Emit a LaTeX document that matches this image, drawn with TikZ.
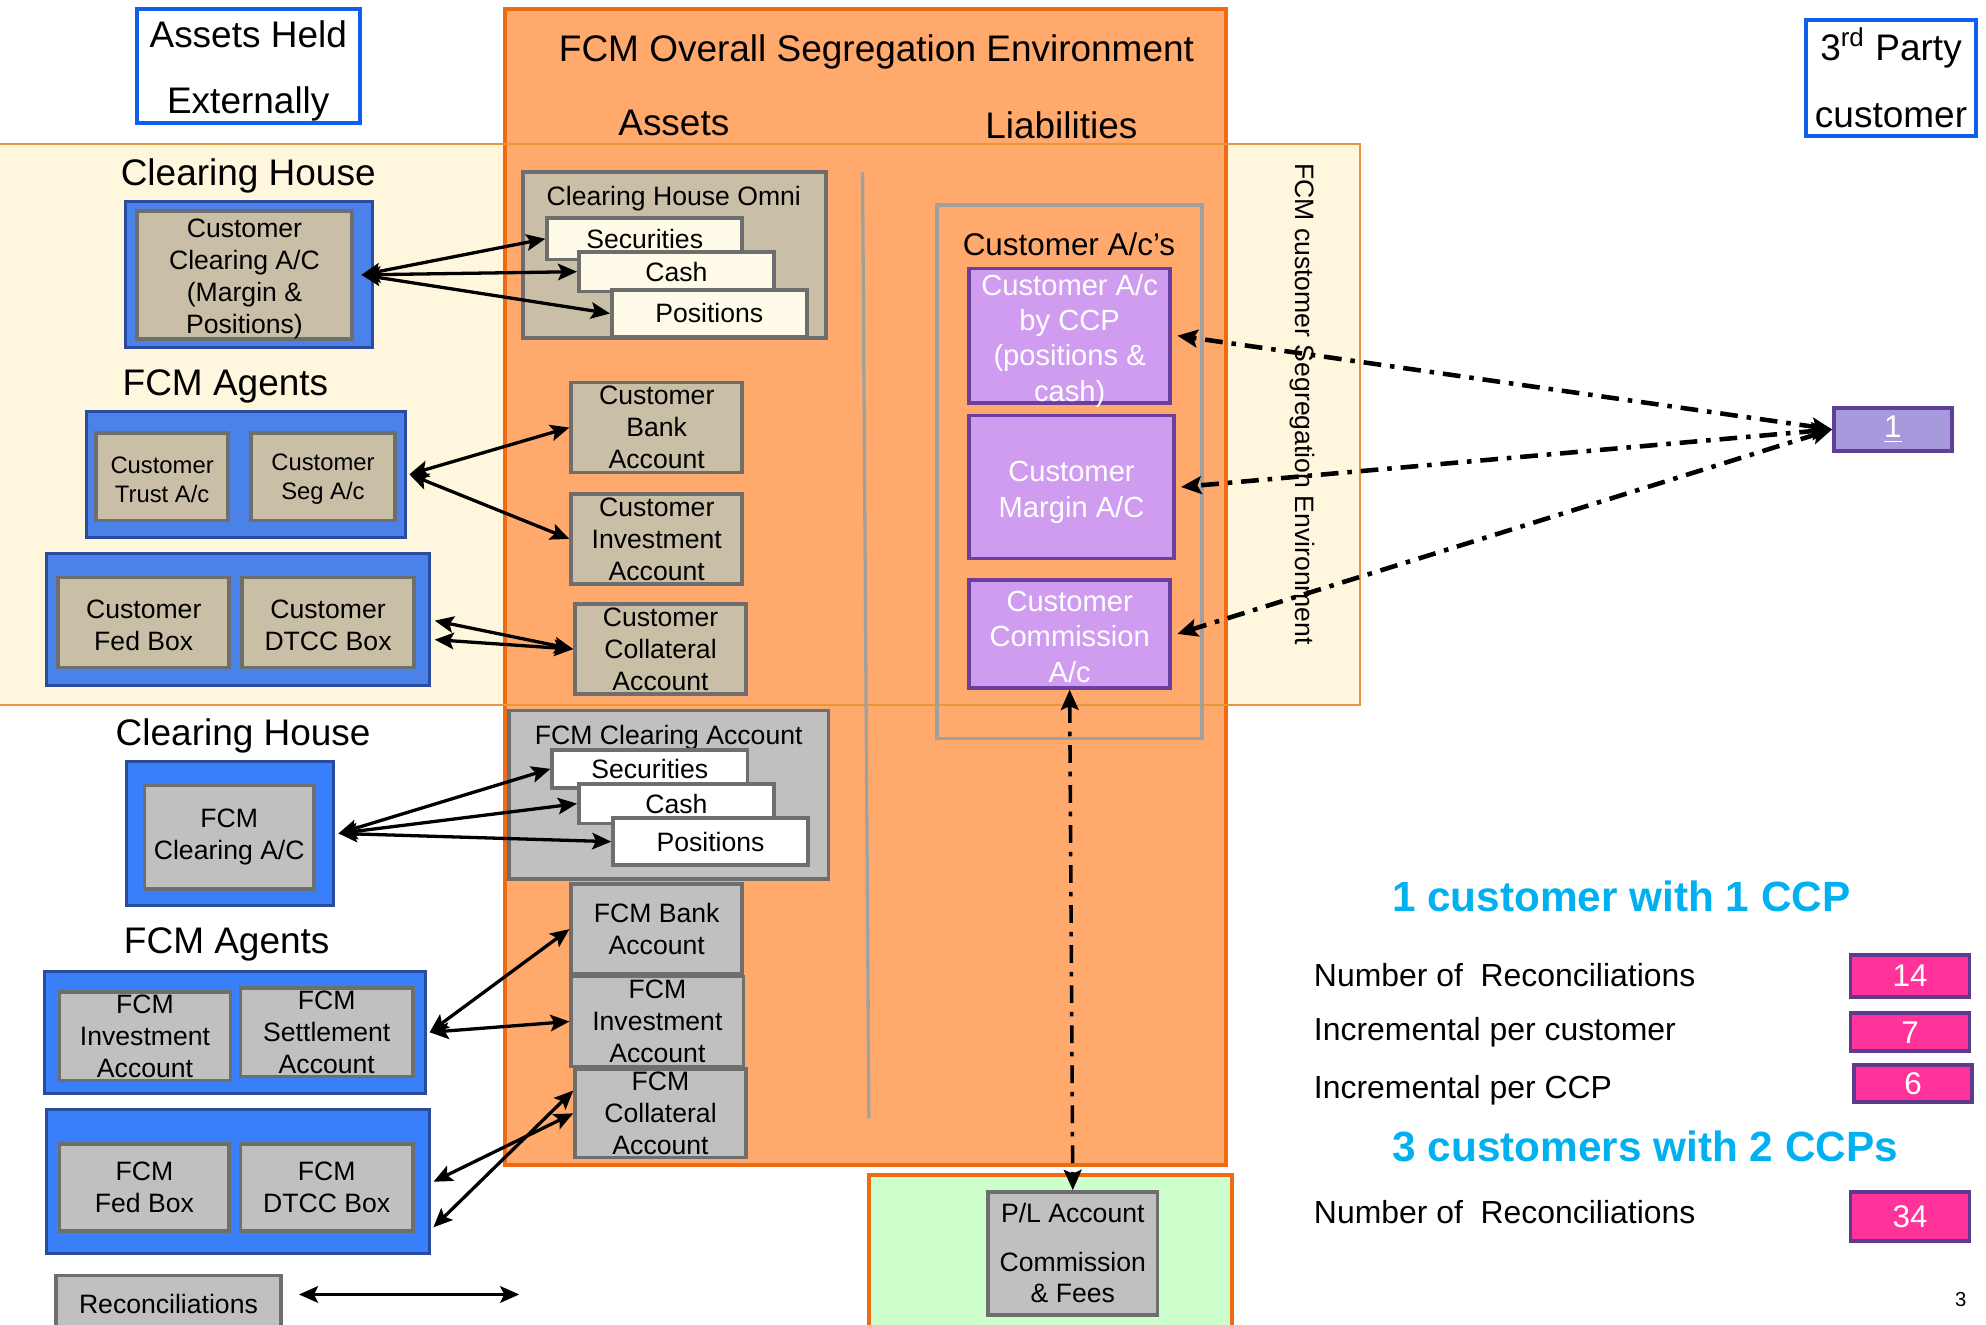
\documentclass[tikz,border=0pt]{standalone}
\usepackage{fontspec}
\setmainfont{Liberation Sans}
\usetikzlibrary{arrows.meta,calc}

% palette
\definecolor{orangefill}{HTML}{FFA96D}
\definecolor{orangeline}{HTML}{EE6B12}
\definecolor{bandfill}{HTML}{FFF6DE}
\definecolor{bandline}{HTML}{E8963A}
\definecolor{greenfill}{HTML}{CCFFCC}
\definecolor{bluefill}{HTML}{3A7FFA}
\definecolor{blueband}{HTML}{4A82EA}
\definecolor{bluedark}{HTML}{2B4C9E}
\definecolor{brightblue}{HTML}{1060EE}
\definecolor{tan}{HTML}{C9BFA7}
\definecolor{greyfill}{HTML}{C0C0C0}
\definecolor{boxline}{HTML}{6E6E6E}
\definecolor{creamw}{HTML}{FFFBE8}
\definecolor{purplefill}{HTML}{D09CF0}
\definecolor{purpleline}{HTML}{6B3FA0}
\definecolor{lavfill}{HTML}{A898DC}
\definecolor{lavline}{HTML}{5E3E96}
\definecolor{pinkfill}{HTML}{FF3399}
\definecolor{pinkline}{HTML}{5E3A8C}
\definecolor{cyantext}{HTML}{00B0F0}
\definecolor{framegrey}{HTML}{A0A0A0}

% font sizes
\newcommand\fsTitle{\fontsize{14.6pt}{17.5pt}\selectfont}
\newcommand\fsBox{\fontsize{10.5pt}{12.6pt}\selectfont}
\newcommand\fsSmallBox{\fontsize{9.4pt}{11.5pt}\selectfont}
\newcommand\fsPurple{\fontsize{11.5pt}{14pt}\selectfont}
\newcommand\fsAcs{\fontsize{12.4pt}{14pt}\selectfont}
\newcommand\fsStat{\fontsize{12.6pt}{15pt}\selectfont}
\newcommand\fsHead{\fontsize{16.7pt}{20pt}\selectfont\bfseries}
\newcommand\fsNum{\fontsize{12.4pt}{14pt}\selectfont}
\newcommand\fsPage{\fontsize{8pt}{9pt}\selectfont}
% invisible strut on a first line, to set a block of lines a little lower
\newcommand\pushdown[1]{\rule{0pt}{#1}}

\begin{document}
\begin{tikzpicture}[x=0.5pt,y=-0.5pt,
  % a rectangle given by its left, top, right and bottom edges
  area/.style n args={4}{minimum width={(#3-#1)*0.5pt}, minimum height={(#4-#2)*0.5pt},
    at={({(#1+#3)/2},{(#2+#4)/2})}},
  plain/.style={inner sep=0pt, align=center},
  title/.style={plain, font=\fsTitle},
  acct/.style={plain, draw=boxline, line width=1.4pt, font=\fsBox},
  tanbox/.style={acct, fill=tan},
  greybox/.style={acct, fill=greyfill},
  creambox/.style={acct, fill=creamw},
  whitebox/.style={acct, fill=white},
  bluebox/.style={plain, fill=bluefill, draw=bluedark, line width=1.2pt},
  bluebandbox/.style={bluebox, fill=blueband},
  purplebox/.style={plain, fill=purplefill, draw=purpleline, line width=1.5pt, text=white, font=\fsPurple},
  pinkbox/.style={plain, fill=pinkfill, draw=pinkline, line width=1.5pt, text=white, font=\fsNum},
  outlinebox/.style={plain, fill=white, draw=brightblue, line width=1.6pt, font=\fsTitle},
  stat/.style={inner sep=0pt, anchor=west, font=\fsStat},
  head/.style={inner sep=0pt, text=cyantext, font=\fsHead},
  link/.style={{Stealth[length=7.5pt,width=6.5pt,inset=1.5pt]}-{Stealth[length=7.5pt,width=6.5pt,inset=1.5pt]}, line width=1.3pt},
  dashdot/.style={{Stealth[length=8pt,width=7pt,inset=1.5pt]}-{Stealth[length=8pt,width=7pt,inset=1.5pt]},
    line width=1.8pt, dash pattern=on 7pt off 3.5pt on 1.8pt off 3.5pt}
]
\useasboundingbox (0,0) rectangle (1568,1046);

% customer segregation band, overall environment and P/L area
\node[plain, fill=bandfill, area={0}{114}{1073}{556}] (band) {};
\node[plain, fill=orangefill, draw=orangeline, line width=1.6pt, area={399}{7}{968}{920}] (env) {};
\draw[bandline, line width=0.8pt] (band.north west) -- (band.north east) -- (band.south east) -- (band.south west);
\node[plain, fill=greenfill, draw=orangeline, line width=1.6pt, area={686}{928}{973}{1075}] (plarea) {};

% headings
\node[outlinebox, area={108}{7}{284}{97}] (held) {\pushdown{14.6pt}Assets Held\\[8.5pt]Externally};
\node[outlinebox, area={1426}{16}{1560}{107}] (third) {3\textsuperscript{rd} Party\\[9pt]customer};
\node[title] (envtitle) at (692,41) {FCM Overall Segregation Environment};
\node[title] (assets) at (532,97) {Assets};
\node[title] (liab) at (838,99) {Liabilities};
\node[title] (ch1) at (196,139) {Clearing House};
\node[title] (ag1) at (178,305) {FCM Agents};
\node[title] (ch2) at (192,581) {Clearing House};
\node[title] (ag2) at (179,746) {FCM Agents};
\node[plain, rotate=-90, font=\fsBox] (bandlabel) at (1028,319) {FCM customer Segregation Environment};

% external holdings, customer side
\node[bluebandbox, area={99}{159}{294}{274}] (blueA) {};
\node[tanbox, area={108}{167}{278}{267}] (chca) {\pushdown{10.6pt}Customer\\Clearing A/C\\(Margin \&\\Positions)};
\node[bluebandbox, area={68}{325}{320}{424}] (blueB) {};
\node[tanbox, font=\fsSmallBox, area={76}{342}{180}{411}] (trust) {\pushdown{8.6pt}Customer\\Trust A/c};
\node[tanbox, font=\fsSmallBox, area={198}{342}{312}{411}] (seg) {\pushdown{8.6pt}Customer\\Seg A/c};
\node[bluebandbox, area={37}{437}{339}{541}] (blueC) {};
\node[tanbox, area={46}{456}{181}{527}] (fed) {\pushdown{9.6pt}Customer\\Fed Box};
\node[tanbox, area={191}{456}{327}{527}] (dtcc) {\pushdown{9.6pt}Customer\\DTCC Box};

% external holdings, FCM side
\node[bluebox, area={100}{601}{263}{715}] (blueD) {};
\node[greybox, area={114}{620}{248}{702}] (fcmca) {FCM\\Clearing A/C};
\node[bluebox, area={35}{767}{336}{863}] (blueE) {};
\node[greybox, area={47}{783}{182}{853}] (finv) {FCM\\Investment\\Account};
\node[greybox, area={190}{780}{326}{850}] (fset) {FCM\\Settlement\\Account};
\node[bluebox, area={37}{876}{339}{990}] (blueF) {};
\node[greybox, area={47}{903}{181}{972}] (ffed) {FCM\\Fed Box};
\node[greybox, area={190}{903}{326}{972}] (fdtcc) {FCM\\DTCC Box};
\node[greybox, area={44}{1007}{222}{1052}] (recon) {Reconciliations};
\coordinate (reca) at (236,1022);
\coordinate (recb) at (410,1022);

% assets inside the environment
\node[tanbox, area={413}{136}{652}{267}] (omni) {};
\node[plain, font=\fsBox] (omnititle) at (532,157) {Clearing House Omni};
\node[creambox, area={432}{172}{586}{205}] (sec) {Securities};
\node[creambox, area={457}{199}{611}{230}] (cash) {Cash};
\node[creambox, area={483}{229}{637}{266}] (pos) {Positions};
\node[tanbox, area={451}{302}{586}{373}] (cba) {Customer\\Bank\\Account};
\node[tanbox, area={451}{390}{586}{461}] (cia) {Customer\\Investment\\Account};
\node[tanbox, area={454}{477}{589}{548}] (ccoll) {Customer\\Collateral\\Account};

\node[greybox, area={402}{561}{654}{694}] (fclr) {};
\node[plain, font=\fsBox] (fclrtitle) at (528,582) {FCM Clearing Account};
\node[whitebox, area={436}{592}{590}{622}] (sec2) {Securities};
\node[whitebox, area={457}{619}{611}{650}] (cash2) {Cash};
\node[whitebox, area={484}{646}{638}{683}] (pos2) {Positions};
\node[greybox, area={451}{698}{586}{769}] (fba) {FCM Bank\\Account};
\node[greybox, area={451}{771}{587}{842}] (fia) {FCM\\Investment\\Account};
\node[greybox, area={454}{844}{589}{914}] (fcoll) {FCM\\Collateral\\Account};

% assets / liabilities divider
\coordinate (divtop) at (681,136);
\coordinate (divbot) at (686,883);
\draw[framegrey, line width=1.3pt] (divtop) -- (divbot);

% liabilities
\node[plain, draw=framegrey, line width=1.5pt, area={740}{162}{949}{583}] (acs) {};
\node[plain, font=\fsAcs] (acstitle) at (844,193) {Customer A/c’s};
\node[purplebox, area={765}{212}{924}{318}] (ccp) {};
% the four lines run past the box edges, so they sit in their own node
\node[plain, text=white, font=\fsPurple] (ccptext) at ([yshift=-2pt]ccp.center) {Customer A/c\\by CCP\\(positions \&\\cash)};
\node[purplebox, area={765}{328}{927}{441}] (margin) {\pushdown{12.4pt}Customer\\Margin A/C};
\node[purplebox, area={765}{458}{924}{543}] (comm) {\pushdown{10.4pt}Customer\\Commission\\A/c};
\node[greybox, area={780}{941}{914}{1038}] (pl) {P/L Account\\[6.5pt]Commission\\\& Fees};

% third party customer
\node[plain, fill=lavfill, draw=lavline, line width=1.5pt, text=white, font=\fsNum, area={1448}{322}{1541}{356}] (one) {\underline{1}};

% reconciliation counts
\node[head] (h1) at (1280,708) {1 customer with 1 CCP};
\node[stat] (s1) at (1037,770) {Number of\ \ Reconciliations};
\node[stat] (s2) at (1037,815) {Incremental per customer};
\node[stat] (s3) at (1037,861) {Incremental per CCP};
\node[head] (h2) at (1299,905) {3 customers with 2 CCPs};
\node[stat] (s4) at (1037,957) {Number of\ \ Reconciliations};
\node[pinkbox, area={1461}{754}{1555}{787}] (n14) {14};
\node[pinkbox, area={1461}{800}{1555}{830}] (n7) {7};
\node[pinkbox, area={1464}{841}{1557}{870}] (n6) {6};
\node[pinkbox, area={1461}{941}{1555}{980}] (n34) {34};
\node[plain, font=\fsPage] (pageno) at (1548,1026) {3};

% connectors
\draw[link] ([xshift=3pt]chca.east) -- (sec.west);
\draw[link] ([xshift=3pt]chca.east) -- (cash.west);
\draw[link] ([xshift=3pt]chca.east) -- (pos.west);
\draw[link] ([xshift=1pt]blueB.east) -- (cba.west);
\draw[link] ([xshift=1pt]blueB.east) -- (cia.west);
\draw[link] ($(blueC.east)+(3,1)$) -- (ccoll.west);
\draw[link] ($(blueC.east)+(3,16)$) -- (ccoll.west);
\draw[link] ([xshift=1.5pt]blueD.east) -- (sec2.west);
\draw[link] ([xshift=1.5pt]blueD.east) -- (cash2.west);
\draw[link] ([xshift=1.5pt]blueD.east) -- (pos2.west);
\draw[link] ([xshift=1pt]blueE.east) -- (fba.west);
\draw[link] ([xshift=1pt]blueE.east) -- (fia.west);
\draw[link] ([xshift=1pt]blueF.east) -- (fcoll.west);
\draw[link] ($(blueF.east)+(2,36)$) -- ($(fcoll.west)+(0,-18)$);
\draw[link] (reca) -- (recb);

\draw[dashdot] (one.west) -- ([xshift=2pt]ccp.east);
\draw[dashdot] (one.west) -- ([xshift=2pt]margin.east);
\draw[dashdot] (one.west) -- ([xshift=2pt]comm.east);
\draw[dashdot, line width=1.4pt] (comm.south) -- (pl.north);
\end{tikzpicture}
\end{document}
